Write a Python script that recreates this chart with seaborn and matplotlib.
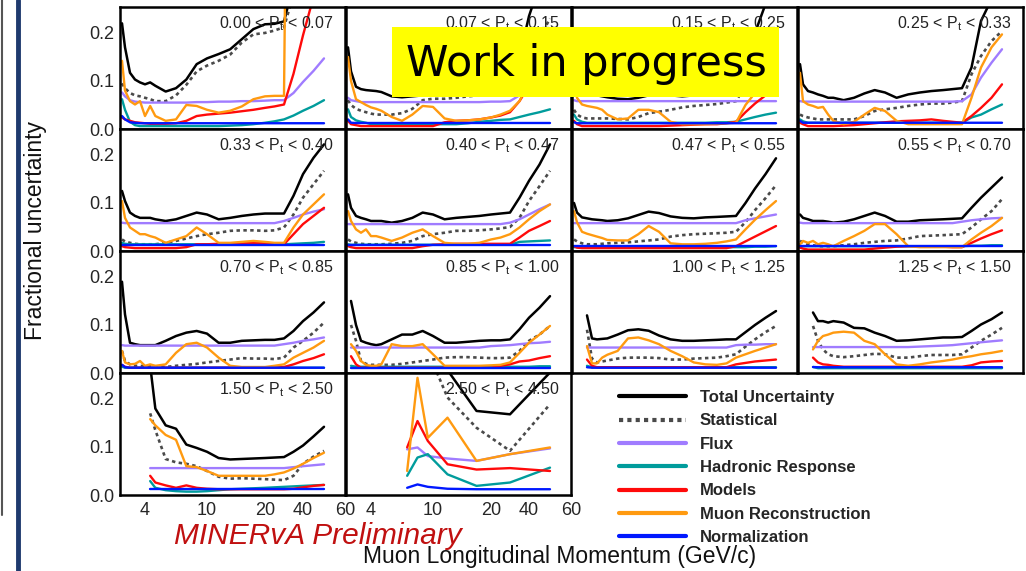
import numpy as np
import pandas as pd
import matplotlib
matplotlib.use("Agg")
import matplotlib.pyplot as plt
import seaborn as sns
from matplotlib.lines import Line2D
from matplotlib.patches import Rectangle
from matplotlib.ticker import FixedLocator, MultipleLocator

nan = float("nan")

# ---------------- data ----------------
P_GRID = [1.7, 2, 2.5, 3, 3.5, 4, 4.5, 5, 6, 7, 8, 9, 10, 12, 14, 16, 18, 20, 25, 30, 35, 40, 45, 50]
P_LAST = [7.5, 8.5, 9.5, 12.5, 17.5, 30, 50]

PT_EDGES = ["0.00", "0.07", "0.15", "0.25", "0.33", "0.40", "0.47", "0.55",
            "0.70", "0.85", "1.00", "1.25", "1.50", "2.50", "4.50"]

SERIES = ["Total Uncertainty", "Statistical", "Flux", "Hadronic Response",
          "Models", "Muon Reconstruction", "Normalization"]
X_TICKS = [4, 10, 20, 40, 60]
X_TICKLABELS = ["4", "10", "20", "40", "60"]
Y_TICKS = [0.0, 0.1, 0.2]
Y_TICKLABELS = ["0.0", "0.1", "0.2"]

# 0.00 < Pt < 0.07
a_total = [0.220, 0.170, 0.117, 0.103, 0.097, 0.093, 0.097, 0.090, 0.078, 0.085, 0.103, 0.135, 0.147, 0.156, 0.166, 0.187, 0.208, 0.218, 0.219, 0.224, 0.300, 0.500, 0.700, 0.900]
a_stat = [0.095, 0.085, 0.075, 0.070, 0.068, 0.065, 0.062, 0.058, 0.058, 0.070, 0.092, 0.120, 0.132, 0.142, 0.155, 0.180, 0.197, 0.200, 0.205, 0.212, 0.280, 0.500, 0.700, 0.900]
a_flux = [0.076, 0.068, 0.060, 0.057, 0.056, 0.055, 0.055, 0.055, 0.055, 0.055, 0.055, 0.056, 0.056, 0.057, 0.057, 0.058, 0.058, 0.059, 0.060, 0.060, 0.075, 0.098, 0.121, 0.147]
a_hadr = [0.062, 0.040, 0.015, 0.008, 0.006, 0.006, 0.006, 0.006, 0.006, 0.006, 0.006, 0.006, 0.006, 0.006, 0.007, 0.008, 0.010, 0.013, 0.016, 0.020, 0.028, 0.038, 0.048, 0.060]
a_models = [0.024, 0.020, 0.017, 0.014, 0.013, 0.012, 0.011, 0.011, 0.011, 0.012, 0.017, 0.027, 0.030, 0.032, 0.034, 0.037, 0.040, 0.044, 0.047, 0.051, 0.115, 0.195, 0.275, 0.360]
a_muon = [0.142, 0.080, 0.058, 0.051, 0.058, 0.027, 0.048, 0.027, 0.017, 0.020, 0.050, 0.048, 0.040, 0.034, 0.038, 0.047, 0.062, 0.068, 0.069, 0.069, 2.000, 2.000, 2.000, 2.000]
a_norm = [0.027, 0.020, 0.014, 0.013, 0.012, 0.012, 0.012, 0.012, 0.012, 0.012, 0.012, 0.012, 0.012, 0.012, 0.012, 0.012, 0.012, 0.012, 0.012, 0.012, 0.012, 0.012, 0.012, 0.012]

# 0.07 < Pt < 0.15
b_total = [0.170, 0.120, 0.088, 0.083, 0.081, 0.080, 0.079, 0.077, 0.068, 0.066, 0.068, 0.070, 0.075, 0.075, 0.078, 0.080, 0.082, 0.085, 0.090, 0.100, 0.150, 0.235, 0.300, 0.350]
b_stat = [0.060, 0.050, 0.042, 0.038, 0.035, 0.032, 0.030, 0.030, 0.030, 0.033, 0.042, 0.060, 0.063, 0.063, 0.065, 0.068, 0.070, 0.072, 0.075, 0.080, 0.110, 0.150, 0.190, 0.230]
b_flux = [0.065, 0.060, 0.058, 0.056, 0.056, 0.056, 0.056, 0.056, 0.056, 0.056, 0.056, 0.056, 0.056, 0.056, 0.056, 0.056, 0.056, 0.057, 0.057, 0.058, 0.070, 0.090, 0.110, 0.130]
b_hadr = [0.041, 0.025, 0.018, 0.015, 0.013, 0.010, 0.010, 0.010, 0.010, 0.010, 0.010, 0.010, 0.010, 0.010, 0.010, 0.012, 0.015, 0.017, 0.019, 0.020, 0.025, 0.030, 0.035, 0.041]
b_models = [0.017, 0.010, 0.008, 0.006, 0.006, 0.006, 0.006, 0.006, 0.006, 0.006, 0.006, 0.006, 0.006, 0.014, 0.017, 0.018, 0.020, 0.024, 0.028, 0.035, 0.058, 0.090, 0.130, 0.170]
b_muon = [0.150, 0.100, 0.062, 0.056, 0.050, 0.045, 0.042, 0.038, 0.025, 0.017, 0.030, 0.048, 0.046, 0.022, 0.017, 0.018, 0.020, 0.024, 0.030, 0.038, 0.058, 0.100, 0.150, 0.200]
b_norm = [0.020, 0.013, 0.0125, 0.0125, 0.0125, 0.0125, 0.0125, 0.0125, 0.0125, 0.0125, 0.0125, 0.0125, 0.0125, 0.0125, 0.0125, 0.0125, 0.0125, 0.0125, 0.0125, 0.0125, 0.0125, 0.0125, 0.0125, 0.0125]

# 0.15 < Pt < 0.25
c_total = [0.150, 0.100, 0.080, 0.075, 0.072, 0.070, 0.068, 0.066, 0.063, 0.062, 0.065, 0.070, 0.072, 0.070, 0.068, 0.070, 0.072, 0.073, 0.075, 0.078, 0.130, 0.200, 0.260, 0.330]
c_stat = [0.040, 0.030, 0.024, 0.022, 0.022, 0.022, 0.022, 0.022, 0.021, 0.020, 0.025, 0.033, 0.036, 0.040, 0.045, 0.048, 0.050, 0.052, 0.055, 0.058, 0.090, 0.130, 0.170, 0.200]
c_flux = [0.060, 0.058, 0.058, 0.058, 0.058, 0.058, 0.058, 0.058, 0.058, 0.058, 0.058, 0.058, 0.058, 0.058, 0.058, 0.058, 0.058, 0.058, 0.058, 0.058, 0.058, 0.058, 0.058, 0.058]
c_hadr = [0.030, 0.020, 0.015, 0.013, 0.013, 0.013, 0.013, 0.013, 0.013, 0.013, 0.013, 0.013, 0.013, 0.013, 0.013, 0.013, 0.013, 0.014, 0.014, 0.015, 0.020, 0.025, 0.030, 0.034]
c_models = [0.017, 0.010, 0.006, 0.006, 0.006, 0.006, 0.006, 0.006, 0.006, 0.006, 0.006, 0.006, 0.006, 0.007, 0.008, 0.009, 0.010, 0.010, 0.012, 0.015, 0.035, 0.053, 0.070, 0.086]
c_muon = [0.100, 0.065, 0.051, 0.048, 0.046, 0.044, 0.040, 0.030, 0.020, 0.022, 0.040, 0.040, 0.035, 0.015, 0.010, 0.010, 0.010, 0.011, 0.012, 0.013, 0.050, 0.075, 0.095, 0.114]
c_norm = [0.014, 0.012, 0.012, 0.012, 0.012, 0.012, 0.012, 0.012, 0.012, 0.012, 0.012, 0.012, 0.012, 0.012, 0.012, 0.012, 0.012, 0.012, 0.012, 0.012, 0.012, 0.012, 0.012, 0.012]

# 0.25 < Pt < 0.33
d_total = [0.135, 0.093, 0.079, 0.076, 0.072, 0.069, 0.065, 0.065, 0.060, 0.065, 0.074, 0.081, 0.076, 0.065, 0.072, 0.076, 0.079, 0.081, 0.083, 0.085, 0.128, 0.225, 0.270, 0.350]
d_stat = [0.030, 0.027, 0.024, 0.022, 0.020, 0.020, 0.020, 0.020, 0.020, 0.020, 0.027, 0.0375, 0.041, 0.044, 0.048, 0.051, 0.053, 0.053, 0.055, 0.058, 0.114, 0.152, 0.183, 0.204]
d_flux = [0.058, 0.057, 0.057, 0.057, 0.057, 0.057, 0.057, 0.057, 0.057, 0.057, 0.057, 0.057, 0.057, 0.057, 0.057, 0.057, 0.057, 0.057, 0.057, 0.058, 0.072, 0.107, 0.138, 0.166]
d_hadr = [0.020, 0.016, 0.013, 0.013, 0.013, 0.013, 0.013, 0.013, 0.013, 0.013, 0.013, 0.013, 0.013, 0.013, 0.013, 0.013, 0.013, 0.013, 0.013, 0.013, 0.024, 0.030, 0.041, 0.051]
d_models = [0.013, 0.010, 0.006, 0.006, 0.006, 0.006, 0.006, 0.006, 0.007, 0.008, 0.010, 0.012, 0.014, 0.016, 0.017, 0.018, 0.020, 0.017, 0.015, 0.013, 0.027, 0.044, 0.065, 0.093]
d_muon = [0.117, 0.058, 0.051, 0.048, 0.044, 0.046, 0.030, 0.017, 0.010, 0.015, 0.030, 0.044, 0.0375, 0.017, 0.010, 0.010, 0.010, 0.010, 0.010, 0.010, 0.065, 0.128, 0.170, 0.197]
d_norm = [0.017, 0.013, 0.013, 0.013, 0.013, 0.013, 0.013, 0.013, 0.013, 0.013, 0.013, 0.013, 0.013, 0.013, 0.013, 0.013, 0.013, 0.013, 0.013, 0.013, 0.013, 0.013, 0.013, 0.013]

# 0.33 < Pt < 0.40
e_total = [0.125, 0.104, 0.080, 0.073, 0.069, 0.069, 0.069, 0.066, 0.0625, 0.066, 0.073, 0.080, 0.076, 0.066, 0.069, 0.073, 0.076, 0.078, 0.078, 0.078, 0.115, 0.160, 0.194, 0.222]
e_stat = [0.024, 0.020, 0.017, 0.015, 0.014, 0.014, 0.014, 0.014, 0.017, 0.021, 0.026, 0.031, 0.035, 0.038, 0.042, 0.043, 0.043, 0.042, 0.043, 0.049, 0.076, 0.111, 0.139, 0.167]
e_flux = [0.059, 0.058, 0.058, 0.058, 0.058, 0.058, 0.058, 0.058, 0.058, 0.058, 0.058, 0.058, 0.058, 0.058, 0.058, 0.058, 0.058, 0.058, 0.058, 0.0625, 0.069, 0.076, 0.082, 0.087]
e_hadr = [0.017, 0.015, 0.014, 0.014, 0.014, 0.014, 0.014, 0.014, 0.014, 0.014, 0.014, 0.014, 0.014, 0.014, 0.014, 0.014, 0.014, 0.014, 0.014, 0.014, 0.015, 0.016, 0.017, 0.019]
e_models = [0.010, 0.008, 0.007, 0.006, 0.006, 0.006, 0.006, 0.006, 0.006, 0.006, 0.008, 0.014, 0.014, 0.015, 0.015, 0.016, 0.017, 0.016, 0.015, 0.014, 0.035, 0.056, 0.073, 0.090]
e_muon = [0.104, 0.069, 0.049, 0.042, 0.035, 0.035, 0.031, 0.028, 0.017, 0.024, 0.031, 0.049, 0.035, 0.017, 0.017, 0.019, 0.021, 0.019, 0.017, 0.017, 0.049, 0.076, 0.097, 0.118]
e_norm = [0.012, 0.012, 0.012, 0.012, 0.012, 0.012, 0.012, 0.012, 0.012, 0.012, 0.012, 0.012, 0.012, 0.012, 0.012, 0.012, 0.012, 0.012, 0.012, 0.012, 0.012, 0.012, 0.012, 0.012]

# 0.40 < Pt < 0.47
f_total = [0.118, 0.090, 0.073, 0.069, 0.066, 0.0625, 0.0625, 0.0625, 0.059, 0.0625, 0.069, 0.080, 0.076, 0.066, 0.069, 0.071, 0.073, 0.076, 0.078, 0.080, 0.111, 0.146, 0.180, 0.222]
f_stat = [0.024, 0.020, 0.017, 0.015, 0.014, 0.014, 0.014, 0.014, 0.015, 0.017, 0.021, 0.031, 0.035, 0.038, 0.042, 0.042, 0.043, 0.045, 0.047, 0.050, 0.069, 0.104, 0.135, 0.167]
f_flux = [0.056, 0.056, 0.056, 0.056, 0.056, 0.056, 0.056, 0.056, 0.056, 0.056, 0.056, 0.056, 0.056, 0.056, 0.056, 0.056, 0.056, 0.056, 0.056, 0.059, 0.066, 0.076, 0.087, 0.097]
f_hadr = [0.014, 0.013, 0.013, 0.013, 0.013, 0.013, 0.013, 0.013, 0.013, 0.013, 0.013, 0.013, 0.013, 0.013, 0.013, 0.013, 0.013, 0.013, 0.013, 0.013, 0.019, 0.020, 0.021, 0.022]
f_models = [0.010, 0.008, 0.006, 0.006, 0.006, 0.006, 0.006, 0.006, 0.006, 0.006, 0.006, 0.010, 0.013, 0.014, 0.015, 0.015, 0.015, 0.015, 0.015, 0.015, 0.028, 0.042, 0.052, 0.0625]
f_muon = [0.083, 0.0625, 0.045, 0.038, 0.045, 0.031, 0.031, 0.028, 0.021, 0.028, 0.038, 0.045, 0.031, 0.017, 0.015, 0.015, 0.017, 0.024, 0.028, 0.035, 0.049, 0.066, 0.083, 0.097]
f_norm = [0.012, 0.012, 0.012, 0.012, 0.012, 0.012, 0.012, 0.012, 0.012, 0.012, 0.012, 0.012, 0.012, 0.012, 0.012, 0.012, 0.012, 0.012, 0.012, 0.012, 0.012, 0.012, 0.012, 0.012]

# 0.47 < Pt < 0.55
g_total = [0.100, 0.080, 0.070, 0.068, 0.066, 0.065, 0.064, 0.0625, 0.064, 0.068, 0.075, 0.082, 0.079, 0.072, 0.069, 0.068, 0.070, 0.071, 0.072, 0.073, 0.100, 0.130, 0.160, 0.193]
g_stat = [0.024, 0.020, 0.016, 0.014, 0.014, 0.014, 0.015, 0.016, 0.017, 0.018, 0.020, 0.022, 0.024, 0.030, 0.033, 0.035, 0.036, 0.037, 0.038, 0.040, 0.060, 0.085, 0.110, 0.137]
g_flux = [0.058, 0.058, 0.058, 0.058, 0.058, 0.058, 0.058, 0.058, 0.058, 0.058, 0.058, 0.058, 0.058, 0.058, 0.058, 0.058, 0.058, 0.058, 0.058, 0.058, 0.064, 0.068, 0.072, 0.076]
g_hadr = [0.008, 0.008, 0.008, 0.008, 0.008, 0.008, 0.008, 0.008, 0.008, 0.008, 0.008, 0.008, 0.008, 0.008, 0.008, 0.008, 0.008, 0.008, 0.008, 0.008, 0.008, 0.009, 0.009, 0.010]
g_models = [0.010, 0.007, 0.006, 0.006, 0.006, 0.006, 0.006, 0.006, 0.006, 0.006, 0.006, 0.006, 0.006, 0.006, 0.006, 0.006, 0.006, 0.006, 0.006, 0.010, 0.020, 0.030, 0.041, 0.052]
g_muon = [0.083, 0.060, 0.040, 0.036, 0.033, 0.030, 0.027, 0.023, 0.022, 0.022, 0.035, 0.052, 0.040, 0.016, 0.014, 0.014, 0.015, 0.017, 0.020, 0.024, 0.045, 0.065, 0.085, 0.104]
g_norm = [0.010, 0.010, 0.010, 0.010, 0.010, 0.010, 0.010, 0.010, 0.010, 0.010, 0.010, 0.010, 0.010, 0.010, 0.010, 0.010, 0.010, 0.010, 0.010, 0.010, 0.010, 0.010, 0.010, 0.010]

# 0.55 < Pt < 0.70
h_total = [0.076, 0.069, 0.066, 0.0625, 0.0625, 0.0625, 0.061, 0.059, 0.061, 0.066, 0.073, 0.080, 0.073, 0.061, 0.061, 0.064, 0.065, 0.066, 0.067, 0.068, 0.090, 0.111, 0.132, 0.153]
h_stat = [0.021, 0.018, 0.014, 0.012, 0.010, 0.010, 0.010, 0.010, 0.012, 0.014, 0.017, 0.019, 0.021, 0.022, 0.026, 0.031, 0.032, 0.033, 0.034, 0.035, 0.049, 0.066, 0.083, 0.108]
h_flux = [0.059, 0.058, 0.058, 0.058, 0.058, 0.058, 0.058, 0.058, 0.058, 0.058, 0.058, 0.058, 0.058, 0.058, 0.058, 0.058, 0.058, 0.058, 0.058, 0.061, 0.064, 0.066, 0.068, 0.069]
h_hadr = [0.010, 0.010, 0.010, 0.010, 0.010, 0.010, 0.010, 0.010, 0.010, 0.010, 0.010, 0.010, 0.010, 0.010, 0.010, 0.010, 0.010, 0.010, 0.010, 0.010, 0.011, 0.011, 0.012, 0.012]
h_models = [0.007, 0.005, 0.003, 0.003, 0.003, 0.003, 0.003, 0.003, 0.003, 0.003, 0.003, 0.005, 0.007, 0.009, 0.010, 0.010, 0.010, 0.009, 0.008, 0.008, 0.017, 0.026, 0.035, 0.043]
h_muon = [0.014, 0.021, 0.017, 0.021, 0.014, 0.017, 0.014, 0.010, 0.021, 0.031, 0.042, 0.056, 0.056, 0.035, 0.010, 0.008, 0.008, 0.008, 0.008, 0.008, 0.024, 0.038, 0.052, 0.069]
h_norm = [0.010, 0.010, 0.010, 0.010, 0.010, 0.010, 0.010, 0.010, 0.010, 0.010, 0.010, 0.010, 0.010, 0.010, 0.010, 0.010, 0.010, 0.010, 0.010, 0.010, 0.010, 0.010, 0.010, 0.010]

# 0.70 < Pt < 0.85
i_total = [0.190, 0.122, 0.063, 0.060, 0.058, 0.058, 0.058, 0.058, 0.067, 0.077, 0.084, 0.0875, 0.082, 0.063, 0.063, 0.067, 0.068, 0.069, 0.069, 0.072, 0.0875, 0.108, 0.126, 0.147]
i_stat = [0.046, 0.025, 0.018, 0.015, 0.015, 0.014, 0.014, 0.014, 0.0125, 0.015, 0.017, 0.019, 0.022, 0.025, 0.028, 0.031, 0.030, 0.030, 0.029, 0.032, 0.053, 0.067, 0.084, 0.105]
i_flux = [0.058, 0.057, 0.057, 0.057, 0.057, 0.057, 0.057, 0.057, 0.057, 0.057, 0.057, 0.057, 0.057, 0.057, 0.057, 0.057, 0.057, 0.057, 0.057, 0.060, 0.063, 0.067, 0.070, 0.074]
i_hadr = [0.013, 0.011, 0.011, 0.011, 0.011, 0.011, 0.011, 0.011, 0.011, 0.011, 0.011, 0.011, 0.011, 0.011, 0.011, 0.011, 0.011, 0.011, 0.011, 0.011, 0.011, 0.011, 0.011, 0.011]
i_models = [0.017, 0.013, 0.011, 0.011, 0.011, 0.011, 0.011, 0.011, 0.011, 0.011, 0.011, 0.011, 0.011, 0.011, 0.011, 0.011, 0.011, 0.011, 0.011, 0.0125, 0.018, 0.025, 0.031, 0.039]
i_muon = [0.046, 0.022, 0.018, 0.019, 0.025, 0.015, 0.018, 0.015, 0.018, 0.042, 0.060, 0.063, 0.053, 0.032, 0.015, 0.0125, 0.0125, 0.0125, 0.015, 0.018, 0.032, 0.042, 0.053, 0.067]
i_norm = [0.017, 0.012, 0.011, 0.011, 0.011, 0.011, 0.011, 0.011, 0.011, 0.011, 0.011, 0.011, 0.011, 0.011, 0.011, 0.011, 0.011, 0.011, 0.011, 0.011, 0.011, 0.011, 0.011, 0.011]

# 0.85 < Pt < 1.00
j_total = [nan, 0.150, 0.100, 0.067, 0.063, 0.060, 0.058, 0.060, 0.070, 0.080, 0.080, 0.0875, 0.077, 0.063, 0.063, 0.065, 0.067, 0.068, 0.068, 0.070, 0.091, 0.115, 0.136, 0.160]
j_stat = [nan, 0.100, 0.067, 0.025, 0.019, 0.017, 0.017, 0.017, 0.017, 0.019, 0.022, 0.025, 0.028, 0.032, 0.033, 0.033, 0.032, 0.031, 0.031, 0.032, 0.046, 0.067, 0.080, 0.098]
j_flux = [nan, 0.053, 0.053, 0.053, 0.053, 0.053, 0.053, 0.053, 0.053, 0.053, 0.053, 0.053, 0.053, 0.053, 0.053, 0.053, 0.053, 0.056, 0.057, 0.058, 0.060, 0.062, 0.063, 0.065]
j_hadr = [nan, 0.015, 0.013, 0.013, 0.013, 0.013, 0.013, 0.013, 0.013, 0.013, 0.013, 0.013, 0.013, 0.013, 0.013, 0.013, 0.013, 0.013, 0.013, 0.013, 0.013, 0.013, 0.014, 0.014]
j_models = [nan, 0.035, 0.018, 0.011, 0.011, 0.011, 0.011, 0.011, 0.011, 0.011, 0.011, 0.011, 0.011, 0.011, 0.011, 0.011, 0.011, 0.011, 0.015, 0.018, 0.024, 0.026, 0.031, 0.035]
j_muon = [nan, 0.060, 0.046, 0.025, 0.017, 0.015, 0.015, 0.018, 0.060, 0.056, 0.056, 0.060, 0.039, 0.015, 0.015, 0.015, 0.015, 0.016, 0.017, 0.022, 0.042, 0.063, 0.080, 0.098]
j_norm = [nan, 0.011, 0.011, 0.011, 0.011, 0.011, 0.011, 0.011, 0.011, 0.011, 0.011, 0.011, 0.011, 0.011, 0.011, 0.011, 0.011, 0.011, 0.011, 0.011, 0.011, 0.011, 0.011, 0.011]

# 1.00 < Pt < 1.25
k_total = [nan, nan, nan, 0.120, 0.072, 0.070, 0.071, 0.072, 0.080, 0.089, 0.091, 0.088, 0.078, 0.070, 0.067, 0.067, 0.068, 0.069, 0.070, 0.070, 0.085, 0.100, 0.115, 0.129]
k_stat = [nan, nan, nan, 0.090, 0.030, 0.022, 0.024, 0.026, 0.030, 0.032, 0.032, 0.032, 0.031, 0.028, 0.028, 0.030, 0.031, 0.032, 0.035, 0.039, 0.055, 0.070, 0.085, 0.098]
k_flux = [nan, nan, nan, 0.053, 0.053, 0.053, 0.053, 0.053, 0.053, 0.053, 0.053, 0.053, 0.053, 0.053, 0.053, 0.053, 0.053, 0.053, 0.053, 0.058, 0.059, 0.059, 0.060, 0.060]
k_hadr = [nan, nan, nan, 0.015, 0.012, 0.012, 0.012, 0.012, 0.012, 0.012, 0.012, 0.012, 0.012, 0.012, 0.012, 0.012, 0.012, 0.012, 0.012, 0.012, 0.012, 0.012, 0.012, 0.012]
k_models = [nan, nan, nan, 0.028, 0.015, 0.012, 0.012, 0.012, 0.012, 0.012, 0.012, 0.012, 0.012, 0.012, 0.012, 0.012, 0.012, 0.012, 0.012, 0.018, 0.021, 0.024, 0.026, 0.028]
k_muon = [nan, nan, nan, 0.056, 0.020, 0.020, 0.032, 0.038, 0.046, 0.072, 0.074, 0.068, 0.060, 0.046, 0.035, 0.022, 0.018, 0.017, 0.020, 0.032, 0.039, 0.046, 0.053, 0.060]
k_norm = [nan, nan, nan, 0.012, 0.011, 0.011, 0.011, 0.011, 0.011, 0.011, 0.011, 0.011, 0.011, 0.011, 0.011, 0.011, 0.011, 0.011, 0.011, 0.011, 0.011, 0.011, 0.011, 0.011]

# 1.25 < Pt < 1.50
l_total = [nan, nan, nan, 0.126, 0.108, 0.108, 0.105, 0.108, 0.105, 0.094, 0.093, 0.084, 0.077, 0.067, 0.068, 0.070, 0.072, 0.074, 0.074, 0.075, 0.0875, 0.101, 0.112, 0.126]
l_stat = [nan, nan, nan, 0.098, 0.067, 0.049, 0.039, 0.035, 0.033, 0.035, 0.0375, 0.040, 0.039, 0.032, 0.032, 0.035, 0.0375, 0.0375, 0.0375, 0.039, 0.053, 0.067, 0.080, 0.094]
l_flux = [nan, nan, nan, 0.054, 0.054, 0.054, 0.054, 0.054, 0.054, 0.054, 0.054, 0.054, 0.054, 0.054, 0.054, 0.055, 0.056, 0.057, 0.058, 0.060, 0.062, 0.064, 0.066, 0.068]
l_hadr = [nan, nan, nan, 0.0125, 0.010, 0.010, 0.010, 0.010, 0.010, 0.010, 0.010, 0.010, 0.010, 0.010, 0.010, 0.010, 0.010, 0.010, 0.010, 0.010, 0.010, 0.010, 0.010, 0.010]
l_models = [nan, nan, nan, 0.032, 0.022, 0.018, 0.017, 0.015, 0.013, 0.013, 0.013, 0.013, 0.013, 0.013, 0.013, 0.013, 0.013, 0.013, 0.013, 0.013, 0.016, 0.022, 0.024, 0.025]
l_muon = [nan, nan, nan, 0.049, 0.067, 0.077, 0.080, 0.084, 0.086, 0.084, 0.067, 0.060, 0.039, 0.018, 0.015, 0.018, 0.022, 0.025, 0.028, 0.032, 0.035, 0.039, 0.042, 0.046]
l_norm = [nan, nan, nan, 0.0125, 0.012, 0.012, 0.012, 0.012, 0.012, 0.012, 0.012, 0.012, 0.012, 0.012, 0.012, 0.012, 0.012, 0.012, 0.012, 0.012, 0.012, 0.012, 0.012, 0.012]

# 1.50 < Pt < 2.50
m_total = [nan, nan, nan, nan, nan, nan, 0.270, 0.180, 0.145, 0.138, 0.105, 0.098, 0.090, 0.077, 0.074, 0.075, 0.076, 0.077, 0.078, 0.079, 0.090, 0.103, 0.122, 0.142]
m_stat = [nan, nan, nan, nan, nan, nan, 0.170, 0.135, 0.075, 0.068, 0.065, 0.060, 0.050, 0.038, 0.034, 0.035, 0.034, 0.033, 0.032, 0.031, 0.040, 0.065, 0.080, 0.092]
m_flux = [nan, nan, nan, nan, nan, nan, 0.056, 0.056, 0.056, 0.056, 0.056, 0.056, 0.056, 0.056, 0.056, 0.056, 0.056, 0.056, 0.056, 0.056, 0.058, 0.060, 0.062, 0.064]
m_hadr = [nan, nan, nan, nan, nan, nan, 0.029, 0.015, 0.010, 0.008, 0.007, 0.007, 0.008, 0.010, 0.012, 0.013, 0.014, 0.015, 0.016, 0.017, 0.018, 0.019, 0.020, 0.021]
m_models = [nan, nan, nan, nan, nan, nan, 0.040, 0.026, 0.020, 0.015, 0.020, 0.015, 0.013, 0.012, 0.012, 0.012, 0.012, 0.012, 0.012, 0.012, 0.013, 0.016, 0.019, 0.021]
m_muon = [nan, nan, nan, nan, nan, nan, 0.158, 0.145, 0.125, 0.115, 0.060, 0.058, 0.050, 0.040, 0.040, 0.040, 0.040, 0.040, 0.043, 0.047, 0.055, 0.065, 0.077, 0.088]
m_norm = [nan, nan, nan, nan, nan, nan, 0.012, 0.012, 0.012, 0.012, 0.012, 0.012, 0.012, 0.012, 0.012, 0.012, 0.012, 0.012, 0.012, 0.012, 0.012, 0.012, 0.012, 0.012]

# 2.50 < Pt < 4.50  (on P_LAST)
n_total = [0.400, 0.400, 0.350, 0.260, 0.175, 0.168, 0.255]
n_stat = [0.400, 0.350, 0.300, 0.203, 0.140, 0.092, 0.189]
n_flux = [0.095, 0.099, 0.081, 0.076, 0.071, 0.085, 0.097]
n_hadr = [0.040, 0.078, 0.085, 0.043, 0.019, 0.026, 0.057]
n_models = [0.099, 0.154, 0.1125, 0.064, 0.053, 0.056, 0.050]
n_muon = [0.050, 0.244, 0.119, 0.161, 0.071, 0.085, 0.099]
n_norm = [0.015, 0.022, 0.017, 0.013, 0.012, 0.012, 0.012]

PANELS = [
    (P_GRID, [a_total, a_stat, a_flux, a_hadr, a_models, a_muon, a_norm]),
    (P_GRID, [b_total, b_stat, b_flux, b_hadr, b_models, b_muon, b_norm]),
    (P_GRID, [c_total, c_stat, c_flux, c_hadr, c_models, c_muon, c_norm]),
    (P_GRID, [d_total, d_stat, d_flux, d_hadr, d_models, d_muon, d_norm]),
    (P_GRID, [e_total, e_stat, e_flux, e_hadr, e_models, e_muon, e_norm]),
    (P_GRID, [f_total, f_stat, f_flux, f_hadr, f_models, f_muon, f_norm]),
    (P_GRID, [g_total, g_stat, g_flux, g_hadr, g_models, g_muon, g_norm]),
    (P_GRID, [h_total, h_stat, h_flux, h_hadr, h_models, h_muon, h_norm]),
    (P_GRID, [i_total, i_stat, i_flux, i_hadr, i_models, i_muon, i_norm]),
    (P_GRID, [j_total, j_stat, j_flux, j_hadr, j_models, j_muon, j_norm]),
    (P_GRID, [k_total, k_stat, k_flux, k_hadr, k_models, k_muon, k_norm]),
    (P_GRID, [l_total, l_stat, l_flux, l_hadr, l_models, l_muon, l_norm]),
    (P_GRID, [m_total, m_stat, m_flux, m_hadr, m_models, m_muon, m_norm]),
    (P_LAST, [n_total, n_stat, n_flux, n_hadr, n_models, n_muon, n_norm]),
]

# ---------------- style ----------------
COLORS = ["#000000", "#4a4a4a", "#a07cff", "#009c9c", "#ff0a0a", "#ff9a10", "#0018ff"]
STYLES = ["-", (0, (1.3, 1.3)), "-", "-", "-", "-", "-"]
WIDTHS = [1.8, 1.9, 1.7, 1.7, 1.7, 1.7, 1.7]

sns.set_style("white")
plt.rcParams["font.family"] = ["Liberation Sans", "DejaVu Sans"]
plt.rcParams["mathtext.fontset"] = "custom"
plt.rcParams["mathtext.rm"] = "Liberation Sans"
plt.rcParams["mathtext.it"] = "Liberation Sans:italic"

W, H = 1026, 571
fig = plt.figure(figsize=(W / 100, H / 100), dpi=100)
fig.patch.set_facecolor("white")

# custom momentum axis (value -> position in a 225 px wide pad)
P_KNOTS = [0.5, 1.5, 4, 10, 20, 40, 60, 200]
POS_KNOTS = [-10, 0, 25, 87, 145, 183, 225, 365]


def fwd(p):
    return np.interp(np.asarray(p, dtype=float), P_KNOTS, POS_KNOTS)


def inv(s):
    return np.interp(np.asarray(s, dtype=float), POS_KNOTS, P_KNOTS)


COL_LEFT = [120, 346, 572, 798]
ROW_TOP = [7, 129, 251, 373]
PW, PH = 225, 122

for k, (xs, ys_list) in enumerate(PANELS):
    r, c = divmod(k, 4)
    ax = fig.add_axes([COL_LEFT[c] / W, 1 - (ROW_TOP[r] + PH) / H, PW / W, PH / H])
    ax.set_facecolor("white")
    for name, ys, col, ls, lw in zip(SERIES, ys_list, COLORS, STYLES, WIDTHS):
        df = pd.DataFrame({"p": xs, "v": ys}).dropna()
        sns.lineplot(data=df, x="p", y="v", ax=ax, color=col, linestyle=ls,
                     lw=lw, estimator=None, sort=True, legend=False)
    ax.set_xscale("function", functions=(fwd, inv))
    ax.set_xlim(1.5, 60)
    ax.set_ylim(0, 0.254)
    ax.set_xlabel("")
    ax.set_ylabel("")
    for sp in ax.spines.values():
        sp.set_visible(True)
        sp.set_linewidth(1.8)
        sp.set_color("black")
    ax.xaxis.set_major_locator(FixedLocator(X_TICKS))
    ax.xaxis.set_minor_locator(FixedLocator(list(inv(np.arange(0, 226, 20)))))
    ax.yaxis.set_major_locator(FixedLocator(Y_TICKS))
    ax.yaxis.set_minor_locator(MultipleLocator(0.02))
    ax.tick_params(axis="both", which="both", direction="in", top=False, right=False,
                   color="black", width=1.0)
    ax.tick_params(axis="y", which="major", length=7, pad=4, labelsize=13)
    ax.tick_params(axis="y", which="minor", length=3.5)
    ax.tick_params(axis="x", which="major", length=5, pad=5, labelsize=13)
    ax.tick_params(axis="x", which="minor", length=4)
    if c == 0:
        ax.set_yticklabels(Y_TICKLABELS)
    else:
        ax.set_yticklabels([])
    if r == 3:
        ax.set_xticklabels(X_TICKLABELS)
    else:
        ax.set_xticklabels([])
    label = PT_EDGES[k] + r" < P$_\mathrm{t}$ < " + PT_EDGES[k + 1]
    ax.text(0.95, 0.94, label, transform=ax.transAxes, ha="right", va="top",
            fontsize=11.5, color="#222222", zorder=10)

# axis titles
fig.text(36 / W, 1 - 230 / H, "Fractional uncertainty", rotation=90,
         ha="center", va="center", fontsize=16.5, color="#111111")
fig.text(560 / W, 1 - 557 / H, "Muon Longitudinal Momentum (GeV/c)",
         ha="center", va="center", fontsize=16.5, color="#111111")
fig.text(318 / W, 1 - 536 / H, "MINERvA Preliminary", ha="center", va="center",
         fontsize=21.5, style="italic", color="#c01010")

# legend
handles = [Line2D([], [], color=col, linestyle=(0, (1, 1)) if i == 1 else "-", lw=3.0)
           for i, col in enumerate(COLORS)]
fig.legend(handles, SERIES, loc="upper left", bbox_to_anchor=(619 / W, 1 - 390 / H),
           frameon=False, prop=dict(family="Liberation Sans", weight="bold", size=12),
           handlelength=4.0, handletextpad=0.85, labelspacing=0.50,
           borderpad=0, borderaxespad=0)

# "Work in progress" banner
fig.patches.append(Rectangle((392 / W, 1 - 97 / H), (779 - 392) / W, 70 / H,
                             transform=fig.transFigure, facecolor="#ffff00",
                             edgecolor="none", zorder=20))
fig.text(586 / W, 1 - 64 / H, "Work in progress", ha="center", va="center",
         fontsize=31, color="black", family="DejaVu Sans", zorder=21)

# slide decorations on the left
fig.add_artist(Line2D([17.5 / W, 17.5 / W], [0, 1], transform=fig.transFigure,
                      color="#1f3a6e", lw=3.5))
fig.add_artist(Line2D([1.5 / W, 1.5 / W], [1 - 515 / H, 1], transform=fig.transFigure,
                      color="#555555", lw=1.5))

fig.savefig("out.png", dpi=100, facecolor="white")
